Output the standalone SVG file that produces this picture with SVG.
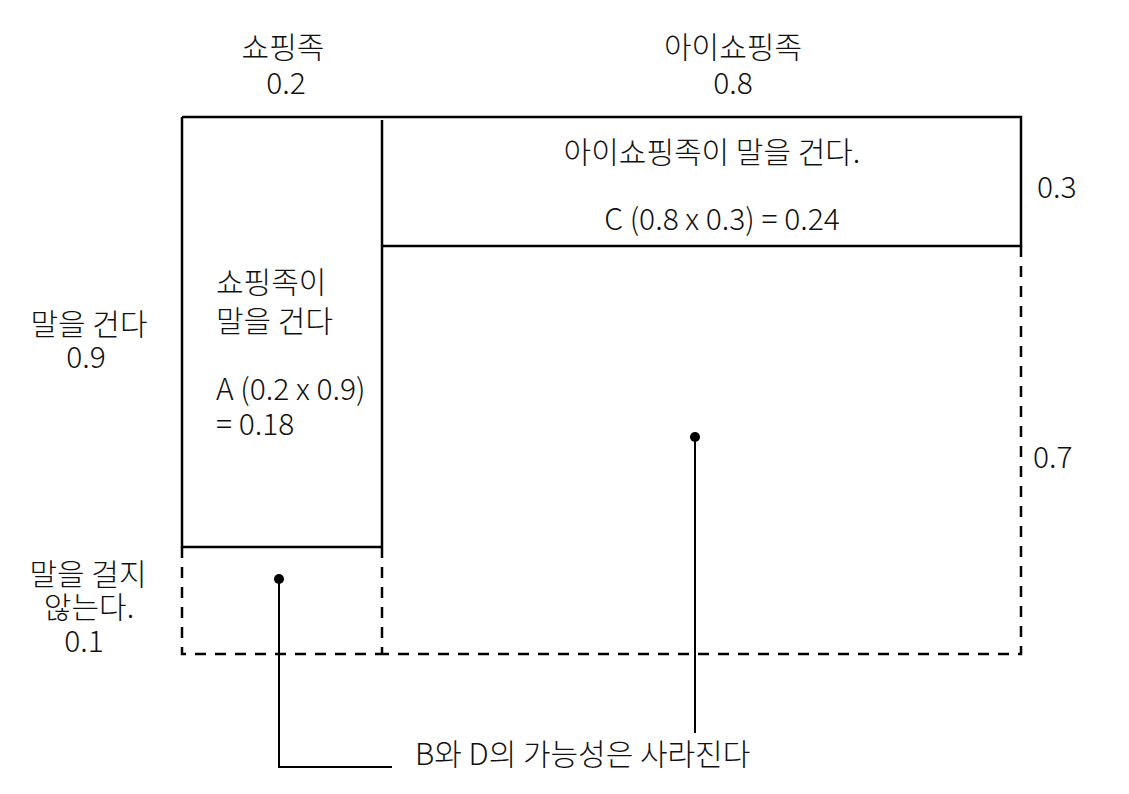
<svg xmlns="http://www.w3.org/2000/svg" width="1129" height="794" viewBox="0 0 1129 794">
<style>
text{font-family:"Noto Sans CJK KR","Noto Sans",sans-serif;font-size:30px;font-weight:300;fill:#111}
.c{text-anchor:middle}
.s{stroke:#000;stroke-width:2.5;fill:none}
.d{stroke:#000;stroke-width:2.5;fill:none;stroke-dasharray:11 9}
.l{stroke:#000;stroke-width:2;fill:none}
</style>
<rect width="1129" height="794" fill="#fff"/>
<g id="headers">
<text class="c" x="283" y="58">쇼핑족</text>
<text class="c" x="286" y="94">0.2</text>
<text class="c" x="733" y="58">아이쇼핑족</text>
<text class="c" x="733" y="94">0.8</text>
</g>
<g id="rowlabels">
<text class="c" x="89" y="335">말을 건다</text>
<text class="c" x="86" y="368">0.9</text>
<text class="c" x="88" y="585">말을 걸지</text>
<text class="c" x="89" y="618">않는다.</text>
<text class="c" x="84" y="652">0.1</text>
<text x="1037" y="198">0.3</text>
<text x="1033" y="468">0.7</text>
</g>
<g id="cellA">
<path class="s" d="M182,117 H382 M182,117 V547 H382 M382,120 V547"/>
<text x="216" y="293">쇼핑족이</text>
<text x="216" y="332">말을 건다</text>
<text x="216" y="400">A (0.2 x 0.9)</text>
<text x="216" y="435">= 0.18</text>
</g>
<g id="cellC">
<path class="s" d="M382,117 H1021 V246 H382"/>
<text class="c" x="712" y="163">아이쇼핑족이 말을 건다.</text>
<text class="c" x="722" y="230">C (0.8 x 0.3) = 0.24</text>
</g>
<g id="cellB">
<path class="d" d="M182,547 V654 H382 M382,547 V654"/>
</g>
<g id="cellD">
<path class="d" d="M1021,246 V654 H382"/>
</g>
<g id="connectors">
<circle cx="279" cy="579" r="5"/>
<path class="l" d="M279,579 V767 H392"/>
<circle cx="695" cy="437" r="5"/>
<path class="l" d="M695,437 V733"/>
</g>
<g id="note">
<text x="415" y="765">B와 D의 가능성은 사라진다</text>
</g>
</svg>
